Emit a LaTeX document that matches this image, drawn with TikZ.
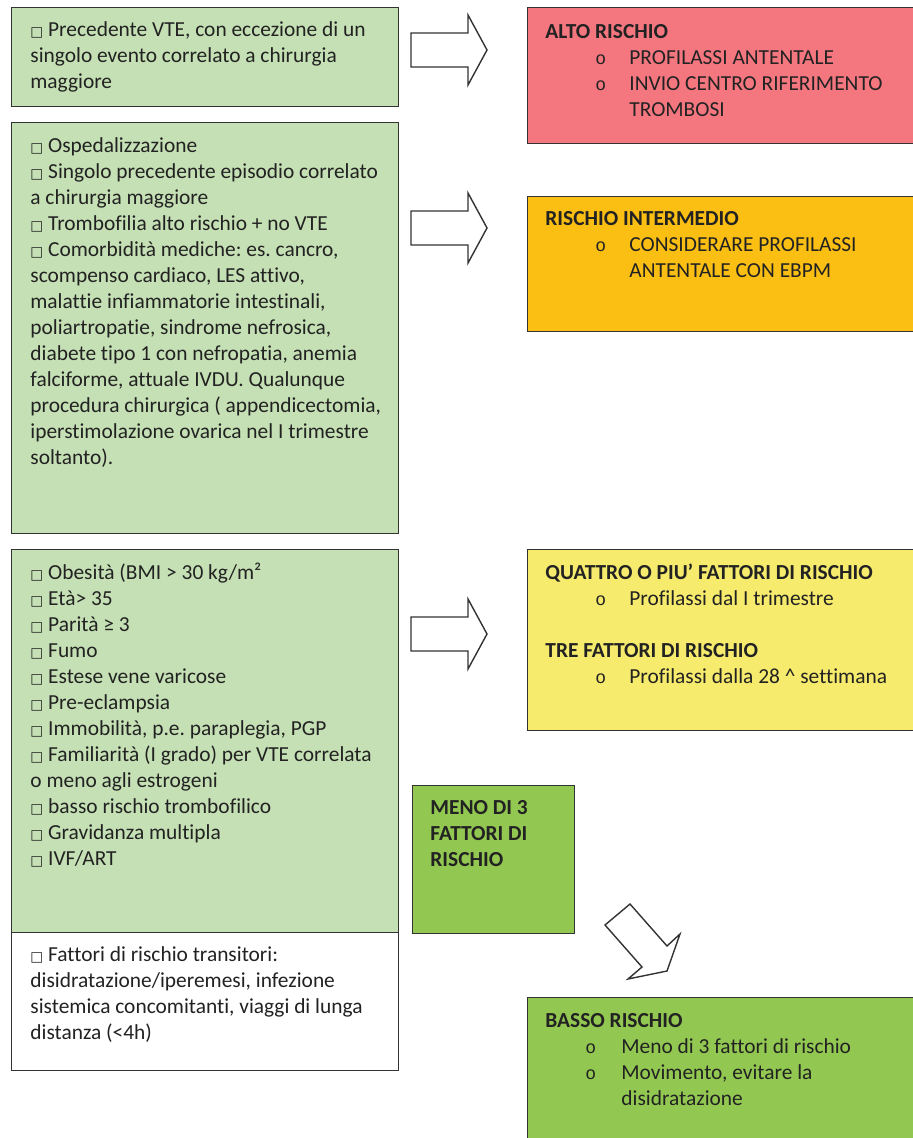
\documentclass[tikz,border=0pt]{standalone}
\usepackage{fontspec}
\setmainfont{Carlito}[Ligatures={NoCommon,NoContextual}]
\newfontfamily\simboli{DejaVu Sans}[Scale=0.64]
\newfontfamily\tondo{Liberation Mono}
\usetikzlibrary{positioning}
\frenchspacing

\definecolor{verdechiaro}{HTML}{C5E0B4}
\definecolor{rosso}{HTML}{F4777F}
\definecolor{arancio}{HTML}{FBBF14}
\definecolor{giallo}{HTML}{F6EB6D}
\definecolor{verde}{HTML}{92C851}
\definecolor{bordo}{HTML}{333333}
\definecolor{scritta}{HTML}{222222}

\newcommand{\qd}{{\simboli □}\ }
\newcommand{\voce}[2]{\hspace*{#1}\makebox[#2][l]{{\tondo\small o}}}

\tikzset{
  riquadro/.style={draw=bordo, line width=0.7pt, anchor=north west, inner sep=0pt},
  testo/.style={inner sep=0pt, align=left, text=scritta,
    font=\fontsize{10.7}{13}\selectfont},
  freccia/.style={draw=bordo, line width=0.7pt, fill=white, line join=miter},
  frecciadx/.pic={
    \draw[freccia] (0,-17) -- (57,-17) -- (57,-35) -- (76,0) -- (57,35)
      -- (57,17) -- (0,17) -- cycle;
  }
}

\begin{document}
\begin{tikzpicture}[x=0.5pt, y=-0.5pt]
\useasboundingbox (0,0) rectangle (913,1138);
\clip (0,0) rectangle (913,1138);

% colonna dei fattori
\node[riquadro, fill=verdechiaro, minimum width=193.5pt, minimum height=49.5pt] (fatt1) at (11,7) {};
\node[riquadro, fill=verdechiaro, minimum width=193.5pt, minimum height=205.5pt] (fatt2) at (11,122) {};
\node[riquadro, fill=verdechiaro, minimum width=193.5pt, minimum height=191.5pt] (fatt3) at (11,549) {};
\node[riquadro, fill=white, minimum width=193.5pt, minimum height=69pt] (fatt4) at (11,932) {};

\node[testo, below right=5.5pt and 9.5pt of fatt1.north west] (t-fatt1) {\strut\qd Precedente VTE, con eccezione di un\\
singolo evento correlato a chirurgia\\ maggiore};
\node[testo, below right=6pt and 9.5pt of fatt2.north west] (t-fatt2) {\strut\qd Ospedalizzazione\\
\qd Singolo precedente episodio correlato\\
a chirurgia maggiore\\
\qd Trombofilia alto rischio + no VTE\\
\qd Comorbidità mediche: es. cancro,\\
scompenso cardiaco, LES attivo,\\
malattie infiammatorie intestinali,\\
poliartropatie, sindrome nefrosica,\\
diabete tipo 1 con nefropatia, anemia\\
falciforme, attuale IVDU. Qualunque\\
procedura chirurgica ( appendicectomia,\\
iperstimolazione ovarica nel I trimestre\\
soltanto).};
\node[testo, below right=6pt and 9.5pt of fatt3.north west] (t-fatt3) {\strut\qd Obesità (BMI > 30 kg/m²\\
\qd Età> 35\\
\qd Parità ≥ 3\\
\qd Fumo\\
\qd Estese vene varicose\\
\qd Pre-eclampsia\\
\qd Immobilità, p.e. paraplegia, PGP\\
\qd Familiarità (I grado) per VTE correlata\\
o meno agli estrogeni\\
\qd basso rischio trombofilico\\
\qd Gravidanza multipla\\
\qd IVF/ART};
\node[testo, below right=5.5pt and 9.5pt of fatt4.north west] (t-fatt4) {\strut\qd Fattori di rischio transitori:\\
disidratazione/iperemesi, infezione\\
sistemica concomitanti, viaggi di lunga\\
distanza (<4h)};

% colonna del rischio
\node[riquadro, fill=rosso, minimum width=212pt, minimum height=68pt] (alto) at (527,7) {};
\node[riquadro, fill=arancio, minimum width=212pt, minimum height=67.5pt] (medio) at (527,196) {};
\node[riquadro, fill=giallo, minimum width=212pt, minimum height=90.5pt] (fattori) at (527,549) {};
\node[riquadro, fill=verde, minimum width=81pt, minimum height=74pt] (meno) at (412,785) {};
\node[riquadro, fill=verde, minimum width=212pt, minimum height=90pt] (basso) at (527,997) {};

\node[testo, below right=6.5pt and 9pt of alto.north west] (t-alto) {\strut\textbf{ALTO RISCHIO}\\
\voce{25pt}{17pt}PROFILASSI ANTENTALE\\
\voce{25pt}{17pt}INVIO CENTRO RIFERIMENTO\\
\hspace*{42pt}TROMBOSI};
\node[testo, below right=5.5pt and 9pt of medio.north west] (t-medio) {\strut\textbf{RISCHIO INTERMEDIO}\\
\voce{25pt}{17pt}CONSIDERARE PROFILASSI\\
\hspace*{42pt}ANTENTALE CON EBPM};
\node[testo, below right=6pt and 9pt of fattori.north west] (t-fattori) {\strut\textbf{QUATTRO O PIU’ FATTORI DI RISCHIO}\\
\voce{25pt}{17pt}Profilassi dal I trimestre\\[13pt]
\textbf{TRE FATTORI DI RISCHIO}\\
\voce{25pt}{17pt}Profilassi dalla 28 \^{} settimana};
\node[testo, below right=5.5pt and 9pt of meno.north west] (t-meno) {\strut\textbf{MENO DI 3}\\
\textbf{FATTORI DI}\\ \textbf{RISCHIO}};
\node[testo, below right=6pt and 9pt of basso.north west] (t-basso) {\strut\textbf{BASSO RISCHIO}\\
\voce{20pt}{18pt}Meno di 3 fattori di rischio\\
\voce{20pt}{18pt}Movimento, evitare la\\
\hspace*{38pt}disidratazione};

% frecce
\pic at (411,50) {frecciadx};
\pic at (411,228) {frecciadx};
\pic at (411,634) {frecciadx};
\draw[freccia] (630,904) -- (667,946) -- (680,934) -- (667,971) -- (628,979)
  -- (642,967) -- (605,925) -- cycle;
\end{tikzpicture}
\end{document}
